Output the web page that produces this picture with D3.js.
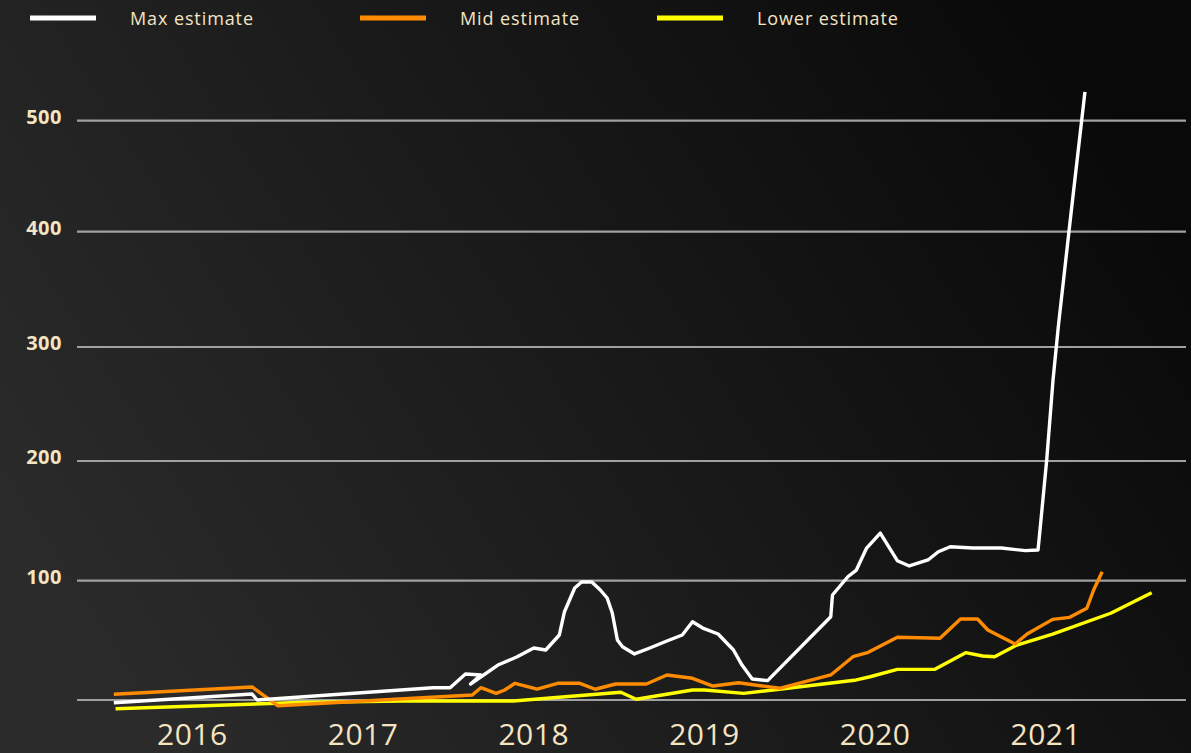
<!DOCTYPE html>
<html>
<head>
<meta charset="utf-8">
<script src="https://cdn.jsdelivr.net/npm/d3@7"></script>
<style>
  html, body { margin: 0; padding: 0; background: #111; }
  svg { display: block; }
</style>
</head>
<body>
<svg width="1191" height="753"></svg>
<script>
// data: [decimal year, value]
const maxEstimate = [
  [2016.04, -2.3], [2016.85, 5.0], [2016.88, 0], [2017.91, 10.3], [2018.01, 10.3],
  [2018.10, 21.8], [2018.19, 21.0], [2018.13, 13.4], [2018.29, 29.3], [2018.40, 36.0],
  [2018.50, 43.6], [2018.57, 41.9], [2018.65, 54.5], [2018.68, 74.0], [2018.74, 93.9],
  [2018.78, 98.9], [2018.84, 98.9], [2018.89, 92.2], [2018.93, 85.5], [2018.96, 72.9],
  [2018.99, 50.3], [2019.02, 44.6], [2019.09, 38.6], [2019.18, 43.6], [2019.28, 49.5],
  [2019.37, 54.5], [2019.43, 65.6], [2019.49, 60.3], [2019.58, 55.3], [2019.67, 41.9],
  [2019.72, 29.3], [2019.78, 17.6], [2019.87, 16.2], [2020.24, 69.8], [2020.25, 88.0],
  [2020.34, 103.3], [2020.39, 108.9], [2020.45, 127.3], [2020.53, 139.8], [2020.63, 116.7],
  [2020.70, 112.3], [2020.81, 117.3], [2020.87, 124.2], [2020.94, 128.4], [2021.07, 127.3],
  [2021.24, 127.3], [2021.38, 125.1], [2021.454, 125.6], [2021.462, 136.8], [2021.505, 200.9],
  [2021.542, 271], [2021.573, 317.6], [2021.641, 407.8], [2021.729, 526]
];

const midEstimate = [
  [2016.04, 4.8], [2016.85, 10.9], [2017.00, -4.8], [2018.14, 4.2], [2018.19, 10.3],
  [2018.28, 5.6], [2018.33, 8.4], [2018.39, 14.0], [2018.52, 9.2], [2018.64, 14.0],
  [2018.77, 14.0], [2018.86, 9.0], [2018.98, 13.4], [2019.16, 13.4], [2019.28, 21.0],
  [2019.43, 18.2], [2019.55, 11.7], [2019.70, 14.5], [2019.94, 9.8], [2020.24, 21.0],
  [2020.37, 36.3], [2020.46, 40.0], [2020.63, 52.6], [2020.88, 51.7], [2021.00, 67.9],
  [2021.10, 67.9], [2021.16, 58.7], [2021.32, 46.9], [2021.39, 55.3], [2021.54, 67.6],
  [2021.64, 69.3], [2021.74, 76.9], [2021.78, 92.2], [2021.83, 107.5]
];

const lowerEstimate = [
  [2016.05, -7.3], [2017.13, -2.1], [2017.72, -0.8], [2018.38, -0.8], [2019.01, 6.5],
  [2019.10, 0.6], [2019.43, 8.4], [2019.50, 8.4], [2019.73, 5.6], [2019.94, 9.0],
  [2020.39, 16.8], [2020.47, 19.5], [2020.63, 25.7], [2020.85, 25.7], [2021.03, 39.7],
  [2021.13, 36.9], [2021.20, 36.3], [2021.33, 46.1], [2021.54, 55.3], [2021.88, 72.7],
  [2022.12, 89.9]
];

const yTicks = [0, 100, 200, 300, 400, 500];
const yearLabels = [2016, 2017, 2018, 2019, 2020, 2021];
const seriesNames = ["Max estimate", "Mid estimate", "Lower estimate"];
const seriesColors = ["#ffffff", "#ff8c00", "#ffff00"];

const svg = d3.select("svg");
const textColor = "#f4e4c1";

// background gradient
const defs = svg.append("defs");
const grad = defs.append("linearGradient")
  .attr("id", "bg")
  .attr("x1", "0").attr("y1", "0.7")
  .attr("x2", "1").attr("y2", "0.3");
grad.append("stop").attr("offset", "0").attr("stop-color", "#2b2b2b");
grad.append("stop").attr("offset", "0.55").attr("stop-color", "#181818");
grad.append("stop").attr("offset", "1").attr("stop-color", "#090909");
svg.append("rect").attr("width", 1191).attr("height", 753).attr("fill", "url(#bg)");

// scales
const x = d3.scaleLinear().domain([2016, 2022]).range([107, 1131.2]);
// gridlines in the picture are not evenly spaced, so map piecewise
const y = d3.scaleLinear()
  .domain(yTicks)
  .range([700, 580.7, 461, 347, 231.7, 120.7]);

// gridlines
svg.append("g")
  .selectAll("line")
  .data(yTicks)
  .enter()
  .append("line")
  .attr("x1", 77)
  .attr("x2", 1186)
  .attr("y1", (d) => y(d))
  .attr("y2", (d) => y(d))
  .attr("stroke", "#a0a0a0")
  .attr("stroke-width", 2.2);

// y labels (no label for 0)
svg.append("g")
  .selectAll("text")
  .data(yTicks.filter((d) => d > 0))
  .enter()
  .append("text")
  .attr("x", 62)
  .attr("y", (d) => y(d) + 3)
  .attr("text-anchor", "end")
  .attr("fill", textColor)
  .attr("font-family", "'Open Sans', sans-serif")
  .attr("font-weight", 700)
  .attr("font-size", 20)
  .attr("letter-spacing", 0.5)
  .text((d) => d);

// year labels at mid-year
svg.append("g")
  .selectAll("text")
  .data(yearLabels)
  .enter()
  .append("text")
  .attr("x", (d) => x(d + 0.5))
  .attr("y", 745)
  .attr("text-anchor", "middle")
  .attr("fill", textColor)
  .attr("font-family", "'Open Sans', sans-serif")
  .attr("font-size", 30)
  .attr("letter-spacing", 0.5)
  .text((d) => d);

// lines
const line = d3.line()
  .x((d) => x(d[0]))
  .y((d) => y(d[1]));

const allSeries = [maxEstimate, midEstimate, lowerEstimate];
// draw lower first so max sits on top
[2, 1, 0].forEach((i) => {
  svg.append("path")
    .datum(allSeries[i])
    .attr("d", line)
    .attr("fill", "none")
    .attr("stroke", seriesColors[i])
    .attr("stroke-width", 3.4)
    .attr("stroke-linejoin", "round");
});

// legend
const legendX = [30, 360, 657];
const legend = svg.append("g")
  .selectAll("g")
  .data(seriesNames)
  .enter()
  .append("g")
  .attr("transform", (d, i) => `translate(${legendX[i]},18)`);

legend.append("line")
  .attr("x1", 0).attr("x2", 66)
  .attr("stroke", (d, i) => seriesColors[i])
  .attr("stroke-width", 5);

legend.append("text")
  .attr("x", 100)
  .attr("y", 7)
  .attr("fill", textColor)
  .attr("font-family", "'Open Sans', sans-serif")
  .attr("font-size", 18)
  .attr("letter-spacing", 0.9)
  .text((d) => d);
</script>
</body>
</html>
